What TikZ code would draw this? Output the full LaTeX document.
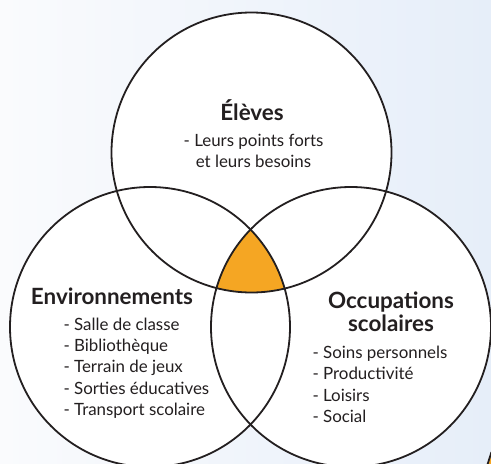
\documentclass[tikz,border=0pt]{standalone}
\usepackage{fontspec}
\setmainfont{Lato}
\definecolor{bgL}{HTML}{FAFBFD}
\definecolor{bgR}{HTML}{E6EEF9}
\definecolor{ink}{HTML}{231F20}
\definecolor{venn}{HTML}{F5A623}
\tikzset{
  ring/.style={draw=ink, line width=1.8pt},
  head/.style={text=ink, font=\fontsize{22.4}{24}\selectfont\bfseries, anchor=base, inner sep=0pt},
  item/.style={text=ink, font=\fontsize{16.9}{18}\selectfont, anchor=base west, inner sep=0pt},
  itemc/.style={text=ink, font=\fontsize{16.9}{18}\selectfont, anchor=base, inner sep=0pt}
}
\begin{document}
\begin{tikzpicture}[x=1pt,y=-1pt]
\useasboundingbox (0,0) rectangle (491,464);
\shade[left color=bgL, right color=bgR] (0,0) rectangle (491,464);
% circles
\coordinate (cT) at (251.5,152.5);
\coordinate (cL) at (150,327);
\coordinate (cR) at (351,327);
\fill[white] (cT) circle (140) (cL) circle (140) (cR) circle (140);
\begin{scope}
  \clip (cL) circle (140);
  \clip (cR) circle (140);
  \fill[venn] (cT) circle (140);
\end{scope}
\draw[ring] (cT) circle (140);
\draw[ring] (cL) circle (140);
\draw[ring] (cR) circle (140);
% corner fragment
\fill[venn] (488.5,464) -- (491,456) -- (491,464) -- cycle;
\draw[ink, line width=1.8pt] (487.5,464.5) -- (491.5,452);
% texts
\node[head] (t1) at (252,120) {Élèves};
\node[itemc] (t1a) at (253.5,146.7) {- Leurs points forts};
\node[itemc] (t1b) at (253.5,167) {et leurs besoins};
\node[head] (t2) at (112,304) {Environnements};
\node[item] (t2a) at (63.3,330) {- Salle de classe};
\node[item] (t2b) at (63.3,351.3) {- Bibliothèque};
\node[item] (t2c) at (63.3,372.6) {- Terrain de jeux};
\node[item] (t2d) at (63.3,394) {- Sorties éducatives};
\node[item] (t2e) at (63.3,415.3) {- Transport scolaire};
\node[head] (t3) at (391,308.3) {Occupations};
\node[head] (t3b) at (391,331.7) {scolaires};
\node[item] (t3c) at (312.3,358.3) {- Soins personnels};
\node[item] (t3d) at (312.3,379.6) {- Productivité};
\node[item] (t3e) at (312.3,401) {- Loisirs};
\node[item] (t3f) at (312.3,422.3) {- Social};
\end{tikzpicture}
\end{document}
